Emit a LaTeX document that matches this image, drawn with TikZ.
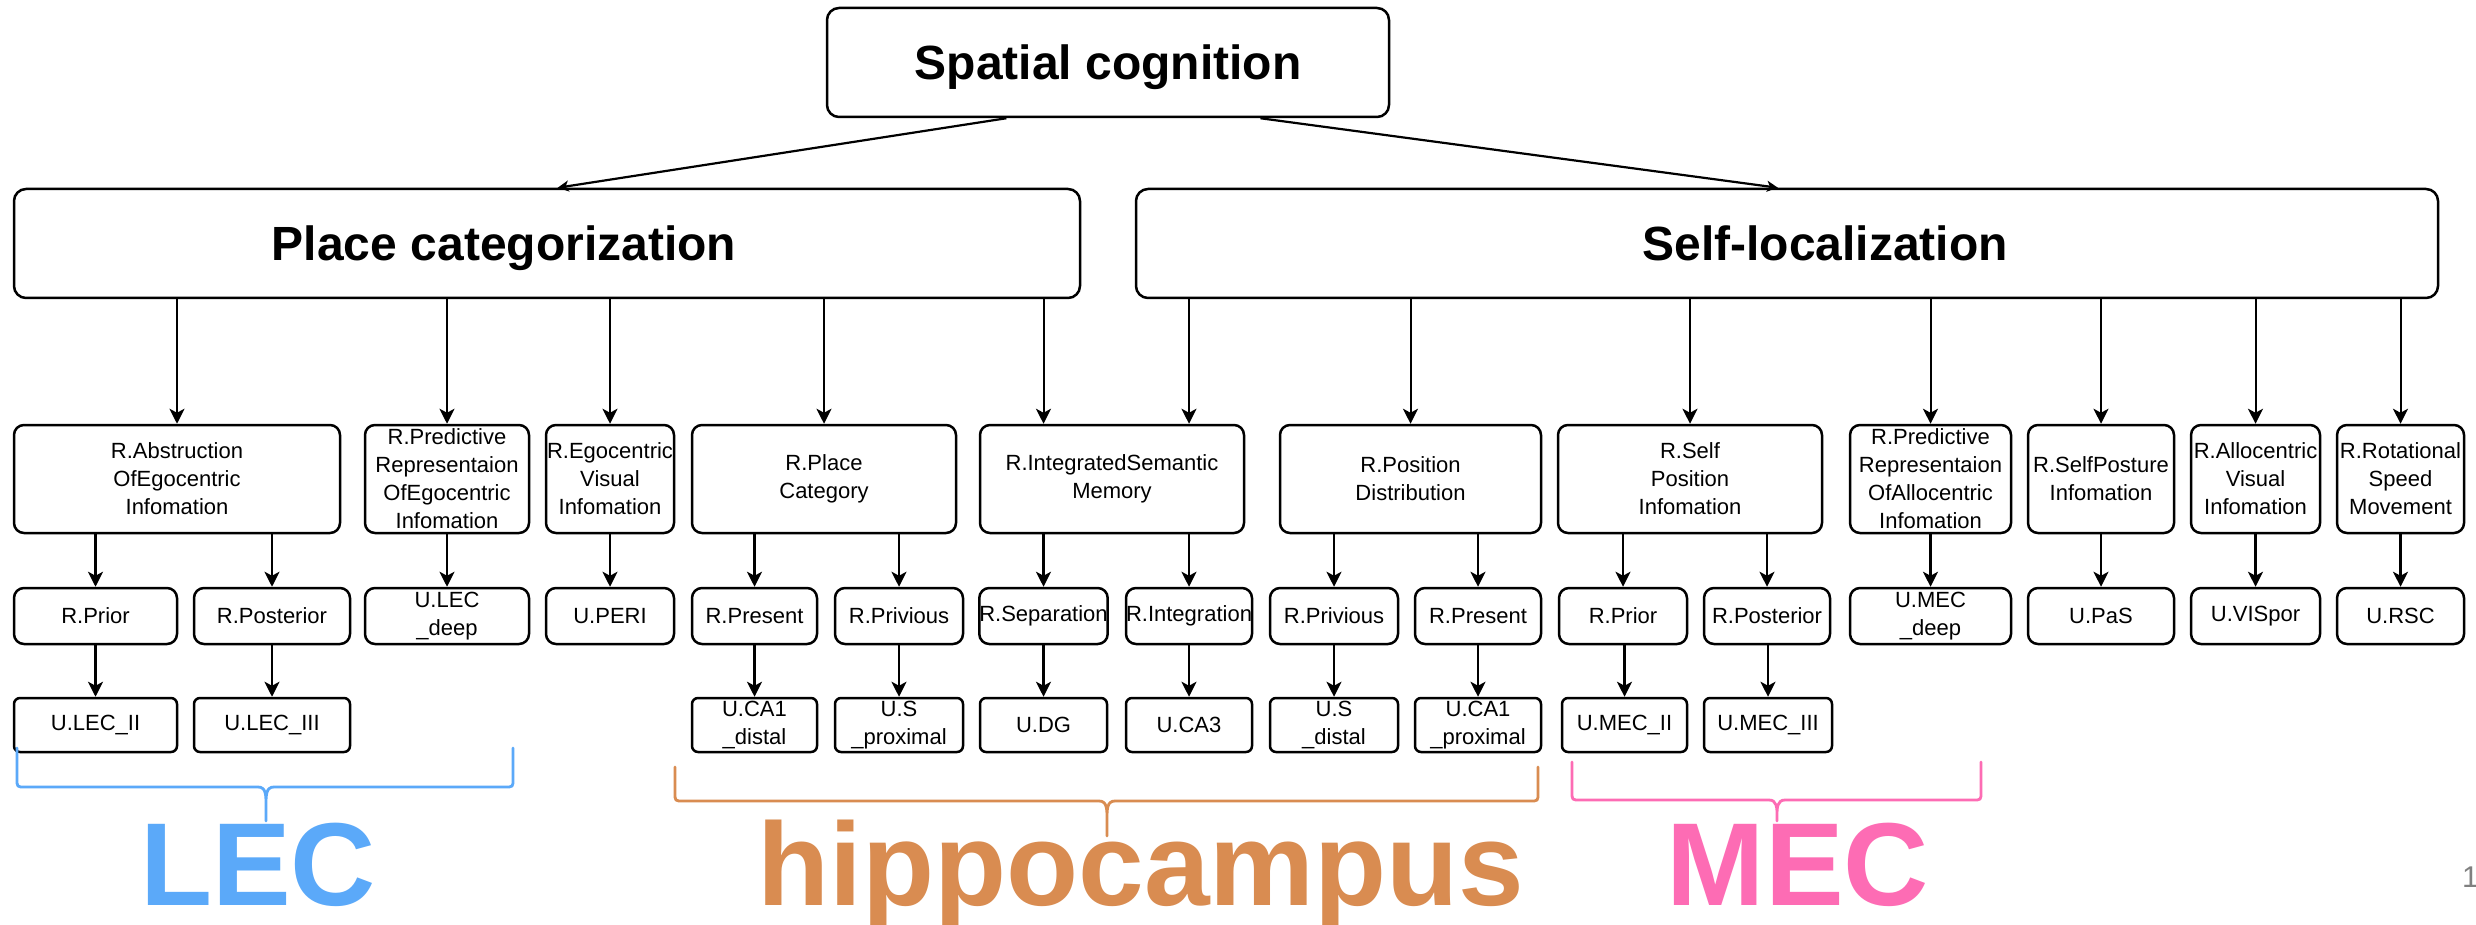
\documentclass[tikz,border=0pt]{standalone}
\usepackage{fontspec}
\setmainfont{Liberation Sans}
\usetikzlibrary{arrows.meta,calc}
\definecolor{lecblue}{HTML}{5BA9F9}
\definecolor{hippoorange}{HTML}{D98C51}
\definecolor{mecpink}{HTML}{FD6CB4}
\definecolor{pagegray}{HTML}{808080}
\begin{document}
\begin{tikzpicture}[x=1pt,y=-1pt,
  basebox/.style={draw=black, line width=2.5pt, fill=white, inner sep=0pt},
  box/.style={basebox, rounded corners=10pt, align=center, font=\fontsize{22}{28}\selectfont},
  bigbox/.style={basebox, rounded corners=12pt, minimum height=109, text depth=0pt, font=\fontsize{48}{56}\selectfont\bfseries},
  lvtwo/.style={box, minimum height=108},
  lvthree/.style={box, minimum height=56},
  lvfour/.style={box, rounded corners=6pt, minimum height=54},
  thinlink/.style={line width=2pt, -{Stealth[length=15pt,width=15pt,inset=4pt]}},
  link/.style={line width=2.2pt, -{Stealth[length=15pt,width=15pt,inset=4pt]}},
  toplink/.style={line width=2.2pt, -{Stealth[length=11pt,width=11pt,inset=3pt]}},
  brace/.style={line width=2.8pt, line cap=round, line join=round},
  region/.style={inner sep=0pt, anchor=base, font=\fontsize{118}{118}\selectfont\bfseries},
]
\useasboundingbox (0,0) rectangle (2476,925);
\fill[white] (0,0) rectangle (2476,925);

% top level and the two main tasks
\node[bigbox, minimum width=562]  (sc) at (1108,62.5)  {Spatial cognition};
\node[bigbox, minimum width=1066] (pc) at (547,243.5)  {Place categorization\kern86pt};
\node[bigbox, minimum width=1302] (sl) at (1787,243.5) {\kern76pt Self-localization};

% representation modules
\node[lvtwo, minimum width=326] (abs) at (177,479)    {R.Abstruction\\OfEgocentric\\Infomation};
\node[lvtwo, minimum width=164] (pre) at (447,479)    {R.Predictive\\Representaion\\OfEgocentric\\Infomation};
\node[lvtwo, minimum width=128] (egv) at (610,479)    {R.Egocentric\\Visual\\Infomation};
\node[lvtwo, minimum width=264] (plc) at (824,479)    {R.Place\\Category};
\node[lvtwo, minimum width=264] (ism) at (1112,479)   {R.IntegratedSemantic\\Memory};
\node[lvtwo, minimum width=261] (pod) at (1410.5,479) {R.Position\\Distribution};
\node[lvtwo, minimum width=264] (spi) at (1690,479)   {R.Self\\Position\\Infomation};
\node[lvtwo, minimum width=161] (pra) at (1930.5,479) {R.Predictive\\Representaion\\OfAllocentric\\Infomation};
\node[lvtwo, minimum width=146] (spo) at (2101,479)   {R.SelfPosture\\Infomation};
\node[lvtwo, minimum width=129] (alv) at (2255.5,479) {R.Allocentric\\Visual\\Infomation};
\node[lvtwo, minimum width=127] (rot) at (2400.5,479) {R.Rotational\\Speed\\Movement};

% sub-representations and leaf units
\node[lvthree, minimum width=163] (prior1) at (95.5,616)   {R.Prior};
\node[lvthree, minimum width=156] (post1)  at (272,616)    {R.Posterior};
\node[lvthree, minimum width=164] (lecd)   at (447,616)    {U.LEC\\\_deep};
\node[lvthree, minimum width=128] (peri)   at (610,616)    {U.PERI};
\node[lvthree, minimum width=125] (pres1)  at (754.5,616)  {R.Present};
\node[lvthree, minimum width=128] (priv1)  at (899,616)    {R.Privious};
\node[lvthree, minimum width=127] (sep)    at (1043.5,616) {R.Separation};
\node[lvthree, minimum width=126] (integ)  at (1189,616)   {R.Integration};
\node[lvthree, minimum width=128] (priv2)  at (1334,616)   {R.Privious};
\node[lvthree, minimum width=126] (pres2)  at (1478,616)   {R.Present};
\node[lvthree, minimum width=128] (prior2) at (1623,616)   {R.Prior};
\node[lvthree, minimum width=126] (post2)  at (1767,616)   {R.Posterior};
\node[lvthree, minimum width=161] (mecd)   at (1930.5,616) {U.MEC\\\_deep};
\node[lvthree, minimum width=146] (pas)    at (2101,616)   {U.PaS};
\node[lvthree, minimum width=129] (vis)    at (2255.5,616) {U.VISpor};
\node[lvthree, minimum width=127] (rsc)    at (2400.5,616) {U.RSC};

% units
\node[lvfour, minimum width=163] (lec2)  at (95.5,725)   {U.LEC\_II};
\node[lvfour, minimum width=156] (lec3)  at (272,725)    {U.LEC\_III};
\node[lvfour, minimum width=125] (ca1d)  at (754.5,725)  {U.CA1\\\_distal};
\node[lvfour, minimum width=128] (sprox) at (899,725)    {U.S\\\_proximal};
\node[lvfour, minimum width=127] (dg)    at (1043.5,725) {U.DG};
\node[lvfour, minimum width=126] (ca3)   at (1189,725)   {U.CA3};
\node[lvfour, minimum width=128] (sdist) at (1334,725)   {U.S\\\_distal};
\node[lvfour, minimum width=126] (ca1p)  at (1478,725)   {U.CA1\\\_proximal};
\node[lvfour, minimum width=125] (mec2)  at (1624.5,725) {U.MEC\_II};
\node[lvfour, minimum width=128] (mec3)  at (1768,725)   {U.MEC\_III};

% connectors
\draw[toplink] ($(sc.south west)!0.32!(sc.south east)$) -- ($(pc.north west)!0.51!(pc.north east)$);
\draw[toplink] ($(sc.south west)!0.77!(sc.south east)$) -- ($(sl.north west)!0.493!(sl.north east)$);

\foreach \c in {abs,pre,egv,plc} \draw[thinlink] (pc.south -| \c.north) -- (\c.north);
\draw[thinlink] (pc.south -| sep.north) -- (ism.north -| sep.north);
\draw[thinlink] (sl.south -| integ.north) -- (ism.north -| integ.north);
\foreach \c in {pod,spi,pra,spo,alv,rot} \draw[thinlink] (sl.south -| \c.north) -- (\c.north);

\foreach \p/\c in {abs/prior1,abs/post1,pre/lecd,egv/peri,plc/pres1,plc/priv1,ism/sep,ism/integ,pod/priv2,pod/pres2,spi/prior2,spi/post2,pra/mecd,spo/pas,alv/vis,rot/rsc}
  \draw[link] (\p.south -| \c.north) -- (\c.north);

\foreach \p/\c in {prior1/lec2,post1/lec3,pres1/ca1d,priv1/sprox,sep/dg,integ/ca3,priv2/sdist,pres2/ca1p,prior2/mec2,post2/mec3}
  \draw[link] (\p.south -| \c.north) -- (\c.north);

% group braces
\draw[brace, lecblue]
  (17,748) -- (17,779) .. controls (17,787) .. (25,787) -- (258,787)
  .. controls (266,787) and (266,795) .. (266,805) -- (266,821)
  (513,748) -- (513,779) .. controls (513,787) .. (505,787) -- (274,787)
  .. controls (266,787) and (266,795) .. (266,805);
\draw[brace, hippoorange]
  (675,767) -- (675,793) .. controls (675,801) .. (683,801) -- (1099,801)
  .. controls (1107,801) and (1107,809) .. (1107,819) -- (1107,836)
  (1538,767) -- (1538,793) .. controls (1538,801) .. (1530,801) -- (1115,801)
  .. controls (1107,801) and (1107,809) .. (1107,819);
\draw[brace, mecpink]
  (1572,762) -- (1572,792) .. controls (1572,800) .. (1580,800) -- (1769,800)
  .. controls (1777,800) and (1777,808) .. (1777,816) -- (1777,821)
  (1981,762) -- (1981,792) .. controls (1981,800) .. (1973,800) -- (1785,800)
  .. controls (1777,800) and (1777,808) .. (1777,816);

% region labels
\node[region, text=lecblue]     (lec) at (258,905)  {LEC};
\node[region, text=hippoorange] (hip) at (1141,905) {hippocampus};
\node[region, text=mecpink]     (mec) at (1798,905) {MEC};
\node[inner sep=0pt, anchor=base west, text=pagegray, font=\fontsize{30}{30}\selectfont] (pg) at (2462,887) {1};
\end{tikzpicture}
\end{document}
